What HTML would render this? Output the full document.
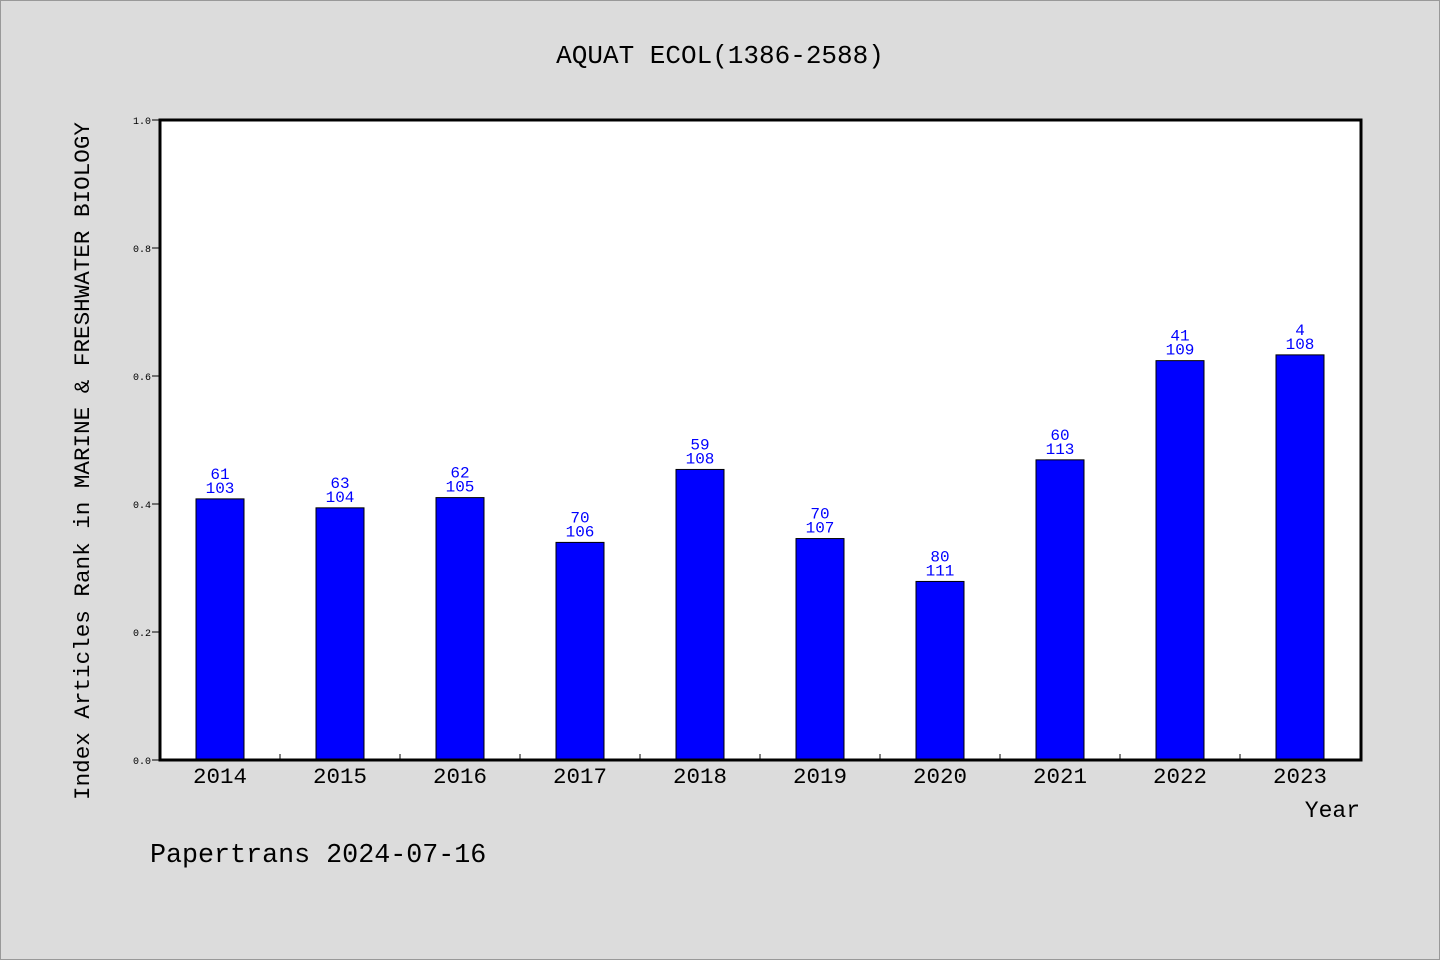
<!DOCTYPE html>
<html><head><meta charset="utf-8"><style>
body{margin:0;background:#dcdcdc;}
svg{display:block;font-family:"Liberation Mono","WenQuanYi Zen Hei Mono",monospace;}
</style></head><body>
<svg id="chart" width="1440" height="960" xmlns="http://www.w3.org/2000/svg">
<rect x="0.5" y="0.5" width="1439" height="959" fill="#dcdcdc" stroke="#999"/>
<text x="720" y="63" font-size="26" text-anchor="middle">AQUAT ECOL(1386-2588)</text>
<rect x="160" y="120" width="1201" height="640" fill="#fff"/>
<g id="marks"></g>
<rect x="160" y="120" width="1201" height="640" fill="none" stroke="#000" stroke-width="3"/>
<text transform="translate(89,461) rotate(-90)" font-size="22.6" text-anchor="middle">Index Articles Rank in MARINE &amp; FRESHWATER BIOLOGY</text>
<text x="1360" y="817" font-size="23" text-anchor="end">Year</text>
<text x="150" y="862" font-size="26.7">Papertrans 2024-07-16</text>
</svg>
<script>
const years=["2014","2015","2016","2017","2018","2019","2020","2021","2022","2023"];
const values=[0.408,0.394,0.410,0.340,0.454,0.346,0.279,0.469,0.624,0.633];
const rankLabels=["61","63","62","70","59","70","80","60","41","4"];
const totalLabels=["103","104","105","106","108","107","111","113","109","108"];
const yTicks=[0,0.2,0.4,0.6,0.8,1.0];
const NS="http://www.w3.org/2000/svg";
const g=document.getElementById('marks');
const x0=160,x1=1360,yb=760,yt=120;
const band=(x1-x0)/years.length;
const xC=i=>x0+band*(i+0.5);
const yS=v=>yb-(yb-yt)*v;
function mk(t,a){const e=document.createElementNS(NS,t);for(const k in a)e.setAttribute(k,a[k]);g.appendChild(e);return e;}
yTicks.forEach(v=>{
  const l=mk('line',{x1:152,x2:160,y1:yS(v),y2:yS(v),stroke:'#000'});
  
  
  const t=mk('text',{x:151,y:yS(v)+4,'font-size':10,'text-anchor':'end'});
  t.textContent=v.toFixed(1);
  
  
});
years.forEach((y,i)=>{
  if(i>0){const l=mk('line',{x1:x0+band*i,x2:x0+band*i,y1:754,y2:760,stroke:'#000'});
  
  }
  const v=values[i];
  const r=mk('rect',{x:xC(i)-24,y:yS(v),width:48,height:yb-yS(v),fill:'#0000ff',stroke:'#000','stroke-width':1});
  
  
  const t1=mk('text',{x:xC(i),y:yS(v)-20,'font-size':16,'text-anchor':'middle',fill:'#0000ff'});
  t1.textContent=rankLabels[i];
  
  
  const t2=mk('text',{x:xC(i),y:yS(v)-6,'font-size':16,'text-anchor':'middle',fill:'#0000ff'});
  t2.textContent=totalLabels[i];
  
  
  const xl=mk('text',{x:xC(i),y:783,'font-size':22.5,'text-anchor':'middle'});
  xl.textContent=y;
  
  
});
</script>
</body></html>
